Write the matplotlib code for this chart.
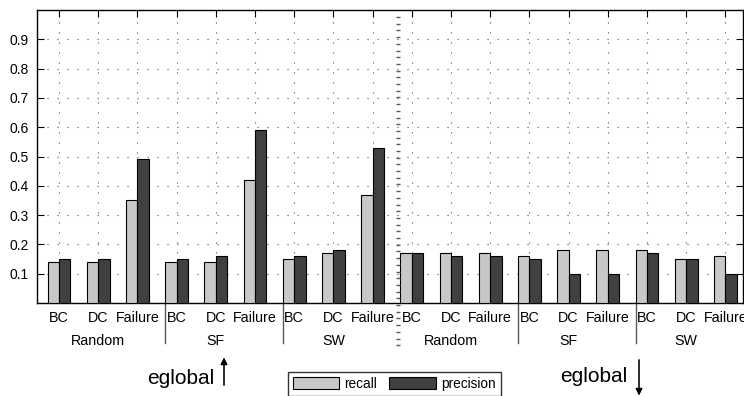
import numpy as np
import matplotlib.pyplot as plt
from matplotlib.lines import Line2D

plt.rcParams['font.family'] = ['Liberation Sans', 'DejaVu Sans']

# eighteen bar pairs: two halves (eglobal up / down), each 3 networks x 3 methods
methods = ['BC', 'DC', 'Failure'] * 6
networks = ['Random', 'SF', 'SW', 'Random', 'SF', 'SW']
recall = [0.14, 0.14, 0.35, 0.14, 0.14, 0.42, 0.15, 0.17, 0.37,
          0.17, 0.17, 0.17, 0.16, 0.18, 0.18, 0.18, 0.15, 0.16]
precision = [0.15, 0.15, 0.49, 0.15, 0.16, 0.59, 0.16, 0.18, 0.53,
             0.17, 0.16, 0.16, 0.15, 0.10, 0.10, 0.17, 0.15, 0.10]
yticks = [0.1, 0.2, 0.3, 0.4, 0.5, 0.6, 0.7, 0.8, 0.9]

W, H = 744, 396
fig = plt.figure(figsize=(W / 100, H / 100), dpi=100)
ax = fig.add_axes([37 / W, 1 - 303 / H, 706 / W, 293 / H])

x = np.arange(1, len(methods) + 1)
bw = 0.29
ax.bar(x - bw / 2, recall, bw, color='#c8c8c8', edgecolor='black', linewidth=0.8,
       label='recall', zorder=3)
ax.bar(x + bw / 2, precision, bw, color='#404040', edgecolor='black', linewidth=0.8,
       label='precision', zorder=3)

ax.set_xlim(0.44, 18.45)
ax.set_ylim(0, 1)
ax.set_yticks(yticks)
ax.set_yticklabels(['%.1f' % v for v in yticks])
ax.set_xticks(x)
ax.set_xticklabels(methods, fontsize=10.3)
ax.tick_params(direction='in', length=5, width=0.8, top=True, right=True, pad=6)
ax.tick_params(axis='y', labelsize=10)
ax.grid(True, linestyle=(0, (1, 8)), color='0.3', linewidth=0.8, zorder=0)
for s in ax.spines.values():
    s.set_linewidth(1.0)

# network group labels under the DC tick of each group
for i, name in enumerate(networks):
    ax.text(x[i * 3 + 1], -0.13, name, ha='center', va='center', fontsize=10.3,
            transform=ax.get_xaxis_transform())
# separators between network groups
for i in [1, 2, 4, 5]:
    xs = x[i * 3] - bw
    ax.add_line(Line2D([xs, xs], [0, -0.135], color='0.35', linewidth=1.0,
                       transform=ax.get_xaxis_transform(), clip_on=False))

# dashed divider between the two halves
fy = np.arange(17, 352, 6.7)
fig.add_artist(Line2D(np.full(len(fy), 397.5 / W), 1 - fy / H, linestyle='none',
                      marker='_', markersize=3, markeredgewidth=1.0, color='0.35'))

# eglobal annotations
fig.text(147 / W, 1 - 378 / H, 'eglobal', fontsize=15, va='center', ha='left')
fig.text(560 / W, 1 - 377 / H, 'eglobal', fontsize=15, va='center', ha='left')
fig.add_artist(plt.annotate('', xy=(224 / W, 1 - 355 / H), xytext=(224 / W, 1 - 388 / H),
                            xycoords='figure fraction',
                            arrowprops=dict(arrowstyle='-|>', color='black', lw=0.8,
                                            mutation_scale=10)))
fig.add_artist(plt.annotate('', xy=(639 / W, 1 - 398 / H), xytext=(639 / W, 1 - 357 / H),
                            xycoords='figure fraction',
                            arrowprops=dict(arrowstyle='-|>', color='black', lw=0.8,
                                            mutation_scale=10)))

leg = fig.legend(loc='upper left', bbox_to_anchor=(288 / W, 1 - 372 / H), ncol=2,
                 fontsize=9.8, frameon=True, fancybox=False, edgecolor='black',
                 handlelength=3.4, handleheight=1.0, borderpad=0.35,
                 columnspacing=0.9, handletextpad=0.4, borderaxespad=0)
leg.get_frame().set_linewidth(1.0)

fig.savefig('out.png', dpi=100)
